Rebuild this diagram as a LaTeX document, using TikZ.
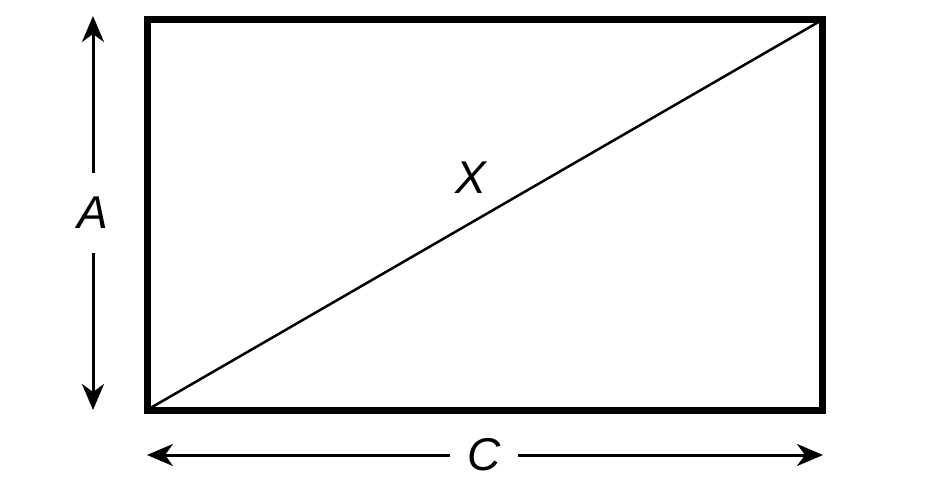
\documentclass[tikz,border=0pt]{standalone}
\usepackage{fontspec}
\setmainfont{Liberation Sans}
\usepackage{tikz}
\usetikzlibrary{arrows.meta}

\begin{document}
\begin{tikzpicture} [
    x=1pt, y=-1pt,
    frame/.style = {line width=7pt, line join=miter},
    diag/.style = {line width=2.5pt},
    dimarrow/.style = {line width=3pt, -{Stealth[length=26pt, width=22pt, inset=8pt]}},
    lbl/.style = {font=\fontsize{46}{50}\selectfont\itshape, inner sep=0pt}
]
    \useasboundingbox (0,0) rectangle (925,492);
    \coordinate (bl) at (147,410);
    \coordinate (tr) at (822,20);
    \draw[frame] (bl) rectangle (tr);
    \draw[diag] (bl) -- (tr);
    \node[lbl] (X) at (471,178) {X};

    % height
    \node[lbl, minimum height=80pt] (A) at (93,213) {A};
    \coordinate (atop) at (93,16);
    \coordinate (abot) at (93,410);
    \draw[dimarrow] (A.north) -- (atop);
    \draw[dimarrow] (A.south) -- (abot);

    % width
    \node[lbl, minimum width=68pt] (C) at (484,455) {C};
    \coordinate (cleft) at (147,455);
    \coordinate (cright) at (823,455);
    \draw[dimarrow] (C.west) -- (cleft);
    \draw[dimarrow] (C.east) -- (cright);
\end{tikzpicture}
\end{document}
